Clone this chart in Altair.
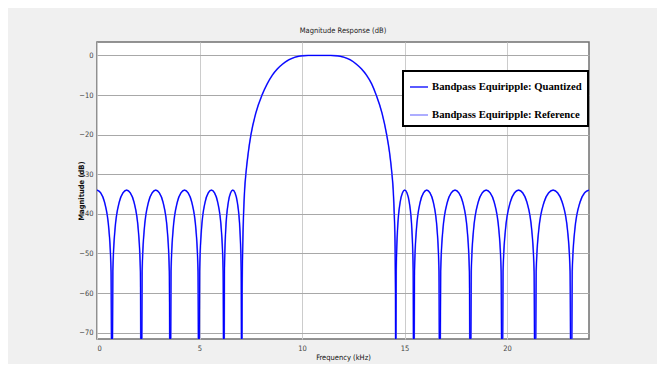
import altair as alt
import pandas as pd

# Frequency (kHz) sample points
freq_khz = [
    0.0, 0.18, 0.365, 0.584, 0.686, 0.73,
    0.773, 0.873, 1.088, 1.266, 1.445, 1.624, 1.803, 2.017, 2.117, 2.16,
    2.202, 2.301, 2.513, 2.689, 2.865, 3.041, 3.218, 3.429, 3.528, 3.57,
    3.612, 3.71, 3.92, 4.095, 4.27, 4.445, 4.62, 4.83, 4.928, 4.97,
    5.007, 5.092, 5.275, 5.428, 5.58, 5.733, 5.885, 6.068, 6.153, 6.19,
    6.216, 6.277, 6.408, 6.516, 6.625, 6.734, 6.843, 6.973, 7.034, 7.06,
    7.08, 7.11, 7.15, 7.20, 7.27, 7.38, 7.51, 7.75, 8.05, 8.3, 8.55, 8.8, 9.05,
    9.36, 9.65, 9.95, 10.3,
    11.4, 11.75, 12.05, 12.35, 12.65, 12.9, 13.15, 13.4, 13.62, 13.9, 14.13, 14.27, 14.38,
    14.45, 14.50, 14.54, 14.56, 14.57,
    14.596, 14.658, 14.79, 14.90, 15.01, 15.12, 15.23, 15.362, 15.424, 15.45,
    15.488, 15.577, 15.768, 15.926, 16.085, 16.244, 16.403, 16.593, 16.682, 16.72,
    16.765, 16.869, 17.093, 17.279, 17.465, 17.651, 17.838, 18.061, 18.165, 18.21,
    18.257, 18.365, 18.598, 18.791, 18.985, 19.179, 19.373, 19.605, 19.714, 19.76,
    19.808, 19.921, 20.163, 20.364, 20.565, 20.766, 20.968, 21.209, 21.322, 21.37,
    21.423, 21.546, 21.81, 22.03, 22.25, 22.47, 22.69, 22.954, 23.077, 23.13,
    23.182, 23.304, 23.565, 23.783, 24.0,
]

# Magnitude (dB) (nulls fall below the axis)
mag_db = [
    -34, -34.7, -37, -44.2, -54.5, -100,
    -54.5, -44.2, -37, -34.7, -34, -34.7, -37, -44.2, -54.5, -100,
    -54.5, -44.2, -37, -34.7, -34, -34.7, -37, -44.2, -54.5, -100,
    -54.5, -44.2, -37, -34.7, -34, -34.7, -37, -44.2, -54.5, -100,
    -54.5, -44.2, -37, -34.7, -34, -34.7, -37, -44.2, -54.5, -100,
    -54.5, -44.2, -37, -34.7, -34, -34.7, -37, -44.2, -54.5, -100,
    -60, -48, -40, -34, -29.5, -24.5, -20, -14.5, -10, -7.2, -5, -3.4, -2.2,
    -1.1, -0.45, -0.1, 0,
    0, -0.1, -0.45, -1.1, -2.2, -3.4, -5, -7.2, -10, -14.5, -20, -24.5, -29.5,
    -34, -40, -48, -60, -100,
    -54.5, -44.2, -37, -34.7, -34, -34.7, -37, -44.2, -54.5, -100,
    -54.5, -44.2, -37, -34.7, -34, -34.7, -37, -44.2, -54.5, -100,
    -54.5, -44.2, -37, -34.7, -34, -34.7, -37, -44.2, -54.5, -100,
    -54.5, -44.2, -37, -34.7, -34, -34.7, -37, -44.2, -54.5, -100,
    -54.5, -44.2, -37, -34.7, -34, -34.7, -37, -44.2, -54.5, -100,
    -54.5, -44.2, -37, -34.7, -34, -34.7, -37, -44.2, -54.5, -100,
    -54.5, -44.2, -37, -34.7, -34,
]

series_names = ["Bandpass Equiripple: Quantized", "Bandpass Equiripple: Reference"]
series_colors = ["#0000ff", "#8080ff"]
x_ticks = [0, 5, 10, 15, 20]
y_ticks = [0, -10, -20, -30, -40, -50, -60, -70]

rows = []
for name in series_names:
    for f, m in zip(freq_khz, mag_db):
        rows.append({"series": name, "freq": f, "mag": m})
df = pd.DataFrame(rows)

SANS = "Liberation Sans Narrow, Arial Narrow, DejaVu Sans Condensed, sans-serif"

color = alt.Color(
    "series:N",
    scale=alt.Scale(domain=series_names, range=series_colors),
    legend=alt.Legend(
        title=None, orient="none", legendX=306, legendY=29,
        fillColor="white", strokeColor="black", padding=6,
        symbolType="stroke", symbolSize=324, symbolStrokeWidth=1.3,
        labelFont="Liberation Serif", labelFontWeight="bold", labelFontSize=10.7,
        labelColor="black", labelLimit=0, labelOffset=3, rowPadding=13, symbolOffset=0,
    ),
)

x = alt.X("freq:Q", title="Frequency (kHz)",
          scale=alt.Scale(domain=[0, 24], nice=False, zero=False),
          axis=alt.Axis(values=x_ticks, gridColor="#cccccc", labelPadding=5, titlePadding=2))
y = alt.Y("mag:Q", title="Magnitude (dB)",
          scale=alt.Scale(domain=[-71.6, 3.4], nice=False, zero=False),
          axis=alt.Axis(values=y_ticks, gridColor="#a8a8a8", labelPadding=4, titleX=-12))

base = alt.Chart(df)
ref_layer = base.transform_filter(alt.datum.series == series_names[1]).mark_line(
    interpolate="monotone", clip=True, strokeWidth=1.7
).encode(x=x, y=y, color=color)
q_layer = base.transform_filter(alt.datum.series == series_names[0]).mark_line(
    interpolate="monotone", clip=True, strokeWidth=1.1
).encode(x=x, y=y, color=color)

chart = alt.layer(ref_layer, q_layer).properties(
    width=492, height=297,
    title=alt.TitleParams("Magnitude Response (dB)", fontSize=7.5, font=SANS,
                          fontWeight="normal", color="#222222", offset=8, anchor="middle"),
    autosize=alt.AutoSizeParams(type="none"),
    padding={"left": 89, "top": 34, "right": 68, "bottom": 25},
).configure(
    background="#f0f0f0",
).configure_view(
    fill="white", stroke="#707070", strokeWidth=1.5,
).configure_axis(
    labelFont=SANS, labelFontSize=7.5, labelColor="#444444",
    titleFont=SANS, titleFontSize=7.5, titleColor="#111111", titleFontWeight="normal",
    ticks=False, domain=False, gridWidth=1, gridOpacity=1,
).configure_axisY(
    titleFontWeight="bold",
).configure_legend(
    strokeWidth=2,
)

chart.save("out.html", embed_options={"renderer": "svg", "actions": False})
